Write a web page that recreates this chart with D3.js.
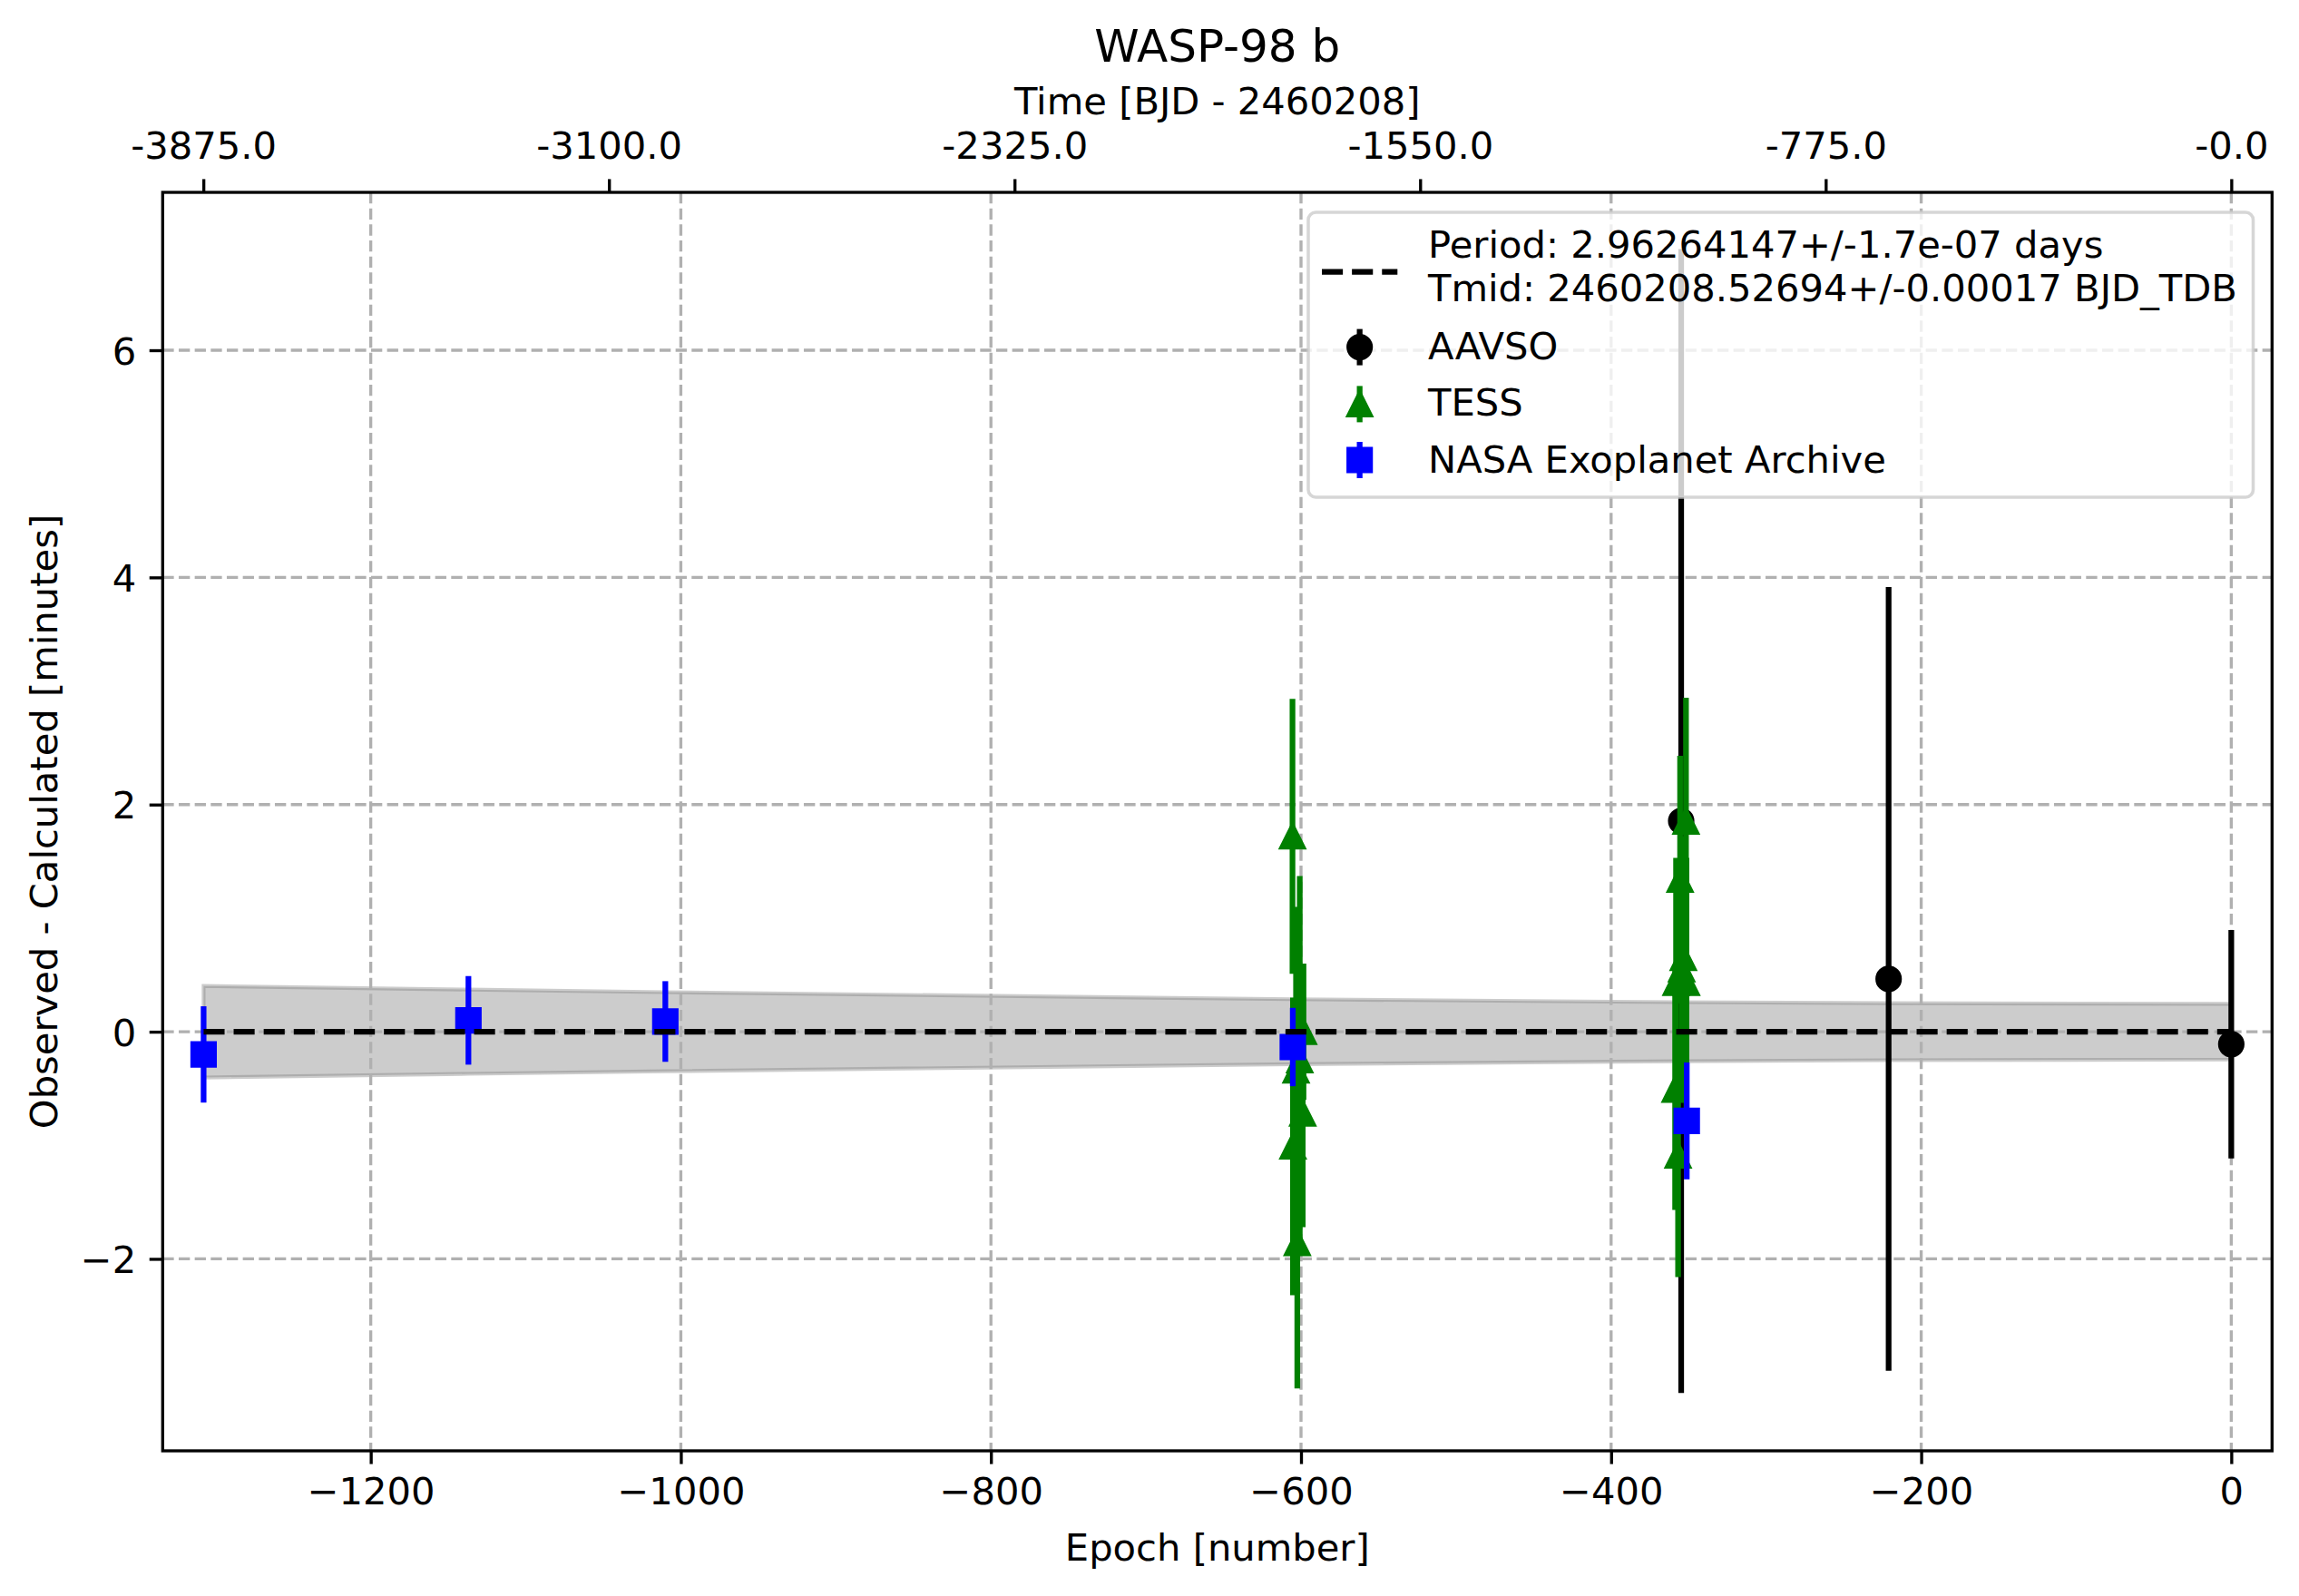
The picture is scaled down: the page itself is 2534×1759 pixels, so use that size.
<!DOCTYPE html>
<html>
<head>
<meta charset="utf-8">
<script src="https://cdn.jsdelivr.net/npm/d3@7"></script>
<style>
  body { margin: 0; background: #fff; }
  svg { display: block; font-family: "DejaVu Sans", sans-serif; }
</style>
</head>
<body>
<div id="chart"></div>
<script>
// WASP-98 b - Observed minus Calculated transit times

const period = 2.96264147;

// AAVSO transits
const aavsoEpoch = [-354.8, -221, 0];
const aavsoOC = [1.855, 0.465, -0.11];
const aavsoErr = [5.035, 3.45, 1.005];

// TESS transits
const tessEpoch = [-605.5, -598.4, -600.8, -603.2, -598.9, -605.2, -602.4,
                   -351.7, -355.5, -353.4, -354.5, -358.1, -351.4, -358.7, -356.8];
const tessOC = [1.72, 0.00, -0.25, -0.34, -0.72, -1.01, -1.86,
                1.85, 1.34, 0.65, 0.55, 0.43, 0.43, -0.51, -1.09];
const tessErr = [1.21, 0.60, 1.62, 1.44, 1.00, 1.31, 1.28,
                 1.09, 1.09, 1.07, 1.08, 1.10, 1.10, 1.06, 1.07];

// NASA Exoplanet Archive transits
const nasaEpoch = [-1307.8, -1137, -1010, -605.3, -351.2];
const nasaOC = [-0.20, 0.10, 0.09, -0.135, -0.785];
const nasaErr = [0.424, 0.39, 0.355, 0.345, 0.515];

// uncertainty band of the linear ephemeris (minutes)
const bandEpoch = [-1307.8, -1137, -1010, -605.3, -354.8, -221, 0];
const bandHalf = [0.403, 0.371, 0.348, 0.286, 0.260, 0.251, 0.245];

// ticks
const xTicks = [-1200, -1000, -800, -600, -400, -200, 0];
const yTicks = [-2, 0, 2, 4, 6];
const timeTicks = [-3875, -3100, -2325, -1550, -775, 0];
const timeTickLabels = ["-3875.0", "-3100.0", "-2325.0", "-1550.0", "-775.0", "-0.0"];

const legendLabels = ["Period: 2.96264147+/-1.7e-07 days",
                      "Tmid: 2460208.52694+/-0.00017 BJD_TDB",
                      "AAVSO", "TESS", "NASA Exoplanet Archive"];

// figure setup (matplotlib at 300 dpi)
const width = 2534, height = 1759;
const pt = 300 / 72;
const fs = 10 * pt;
const plotLeft = 179.3, plotRight = 2504.3, plotTop = 212, plotBottom = 1599;

const svg = d3.select("#chart")
    .append("svg")
    .attr("width", width)
    .attr("height", height);

svg.append("rect").attr("width", width).attr("height", height).attr("fill", "#fff");

const x = d3.scaleLinear().domain([-1334.2, 26.3]).range([plotLeft, plotRight]);
const y = d3.scaleLinear().domain([-3.69, 7.39]).range([plotBottom, plotTop]);
const xTime = d3.scaleLinear().domain(x.domain().map(d => d * period)).range([plotLeft, plotRight]);

// band
const bandData = bandEpoch.map((e, i) => ({ e, h: bandHalf[i] }));
const area = d3.area()
    .x(d => x(d.e))
    .y0(d => y(-d.h))
    .y1(d => y(d.h));
svg.append("path")
    .attr("d", area(bandData))
    .attr("fill", "gray")
    .attr("fill-opacity", 0.4)
    .attr("stroke", "gray")
    .attr("stroke-opacity", 0.4)
    .attr("stroke-width", 1 * pt);

// grid
const grid = svg.append("g")
    .attr("stroke", "#b0b0b0")
    .attr("stroke-width", 0.8 * pt)
    .attr("stroke-dasharray", `${2.96 * pt} ${1.28 * pt}`);
grid.selectAll(".gx").data(xTicks).enter().append("line")
    .attr("x1", d => x(d)).attr("x2", d => x(d))
    .attr("y1", plotTop).attr("y2", plotBottom);
grid.selectAll(".gy").data(yTicks).enter().append("line")
    .attr("y1", d => y(d)).attr("y2", d => y(d))
    .attr("x1", plotLeft).attr("x2", plotRight);

// marker shapes
const ms = 6 * pt;
function markerPath(shape, cx, cy) {
    const h = ms / 2;
    if (shape === "^") return `M${cx},${cy - h}L${cx - h},${cy + h}L${cx + h},${cy + h}Z`;
    return `M${cx - h},${cy - h}H${cx + h}V${cy + h}H${cx - h}Z`;
}

function drawSeries(epochs, vals, errs, color, shape) {
    const data = epochs.map((e, i) => ({ e, v: vals[i], err: errs[i] }));
    const g = svg.append("g");
    g.selectAll(".bar").data(data).enter().append("line")
        .attr("x1", d => x(d.e)).attr("x2", d => x(d.e))
        .attr("y1", d => y(d.v - d.err)).attr("y2", d => y(d.v + d.err))
        .attr("stroke", color)
        .attr("stroke-width", 1.5 * pt);
    if (shape === "o") {
        g.selectAll(".mk").data(data).enter().append("circle")
            .attr("cx", d => x(d.e)).attr("cy", d => y(d.v))
            .attr("r", ms / 2)
            .attr("fill", color).attr("stroke", color).attr("stroke-width", 1 * pt);
    } else {
        g.selectAll(".mk").data(data).enter().append("path")
            .attr("d", d => markerPath(shape, x(d.e), y(d.v)))
            .attr("fill", color).attr("stroke", color).attr("stroke-width", 1 * pt)
            .attr("stroke-linejoin", "miter");
    }
}

drawSeries(aavsoEpoch, aavsoOC, aavsoErr, "black", "o");
drawSeries(tessEpoch, tessOC, tessErr, "green", "^");
drawSeries(nasaEpoch, nasaOC, nasaErr, "blue", "s");

// linear ephemeris
svg.append("path")
    .attr("d", d3.line().x(d => x(d)).y(() => y(0))([d3.min(bandEpoch), d3.max(bandEpoch)]))
    .attr("stroke", "black")
    .attr("stroke-width", 1.5 * pt)
    .attr("stroke-dasharray", `${5.55 * pt} ${2.4 * pt}`)
    .attr("fill", "none");

// axes
function styleAxis(g) {
    g.select(".domain").remove();
    g.selectAll(".tick line").attr("stroke", "black").attr("stroke-width", 0.8 * pt);
    g.selectAll(".tick text")
        .attr("fill", "black")
        .style("font-size", fs + "px")
        .style("font-family", "DejaVu Sans");
}

svg.append("g")
    .attr("transform", `translate(0,${plotBottom})`)
    .call(d3.axisBottom(x).tickValues(xTicks).tickFormat(d3.format("d"))
        .tickSizeInner(3.5 * pt).tickSizeOuter(0).tickPadding(3.5 * pt))
    .call(styleAxis);

svg.append("g")
    .attr("transform", `translate(${plotLeft},0)`)
    .call(d3.axisLeft(y).tickValues(yTicks).tickFormat(d3.format("d"))
        .tickSizeInner(3.5 * pt).tickSizeOuter(0).tickPadding(3.5 * pt))
    .call(styleAxis)
    .selectAll(".tick text").attr("dy", "0.36em");

svg.append("g")
    .attr("transform", `translate(0,${plotTop})`)
    .call(d3.axisTop(xTime).tickValues(timeTicks).tickFormat((d, i) => timeTickLabels[i])
        .tickSizeInner(3.5 * pt).tickSizeOuter(0).tickPadding(3.5 * pt))
    .call(styleAxis)
    .selectAll(".tick text").attr("dy", "-0.2em");

// frame
svg.append("rect")
    .attr("x", plotLeft).attr("y", plotTop)
    .attr("width", plotRight - plotLeft).attr("height", plotBottom - plotTop)
    .attr("fill", "none")
    .attr("stroke", "black")
    .attr("stroke-width", 0.8 * pt);

// titles and labels
const midX = (plotLeft + plotRight) / 2;
svg.append("text").attr("x", midX).attr("y", 68.3)
    .attr("text-anchor", "middle").style("font-size", 12 * pt + "px")
    .text("WASP-98 b");
svg.append("text").attr("x", midX).attr("y", 125.5)
    .attr("text-anchor", "middle").style("font-size", fs + "px")
    .text("Time [BJD - 2460208]");
svg.append("text").attr("x", midX).attr("y", 1720)
    .attr("text-anchor", "middle").style("font-size", fs + "px")
    .text("Epoch [number]");
svg.append("text")
    .attr("transform", `translate(63,${(plotTop + plotBottom) / 2}) rotate(-90)`)
    .attr("text-anchor", "middle").style("font-size", fs + "px")
    .text("Observed - Calculated [minutes]");

// legend
const lg = svg.append("g");
lg.append("rect")
    .attr("x", 1442).attr("y", 234)
    .attr("width", 2483.5 - 1442).attr("height", 548 - 234)
    .attr("rx", 0.2 * fs).attr("ry", 0.2 * fs)
    .attr("fill", "white").attr("fill-opacity", 0.8)
    .attr("stroke", "#cccccc").attr("stroke-opacity", 0.8)
    .attr("stroke-width", 0.85 * pt);

const hx0 = 1457, hx1 = 1540.3, hxc = (hx0 + hx1) / 2, tx = 1574;

lg.append("line")
    .attr("x1", hx0).attr("x2", hx1).attr("y1", 299.5).attr("y2", 299.5)
    .attr("stroke", "black").attr("stroke-width", 1.5 * pt)
    .attr("stroke-dasharray", `${5.55 * pt} ${2.4 * pt}`);
lg.append("text").attr("x", tx).attr("y", 283.6).style("font-size", fs + "px").text(legendLabels[0]);
lg.append("text").attr("x", tx).attr("y", 332).style("font-size", fs + "px").text(legendLabels[1]);

const legendRows = [
    { label: legendLabels[2], color: "black", shape: "o", cy: 382.6, ty: 395.6 },
    { label: legendLabels[3], color: "green", shape: "^", cy: 445.4, ty: 458.4 },
    { label: legendLabels[4], color: "blue", shape: "s", cy: 507, ty: 521 }
];
legendRows.forEach(r => {
    lg.append("line")
        .attr("x1", hxc).attr("x2", hxc).attr("y1", r.cy - 20).attr("y2", r.cy + 20)
        .attr("stroke", r.color).attr("stroke-width", 1.5 * pt);
    if (r.shape === "o") {
        lg.append("circle").attr("cx", hxc).attr("cy", r.cy).attr("r", ms / 2)
            .attr("fill", r.color).attr("stroke", r.color).attr("stroke-width", 1 * pt);
    } else {
        lg.append("path").attr("d", markerPath(r.shape, hxc, r.cy))
            .attr("fill", r.color).attr("stroke", r.color).attr("stroke-width", 1 * pt);
    }
    lg.append("text").attr("x", tx).attr("y", r.ty).style("font-size", fs + "px").text(r.label);
});
</script>
</body>
</html>
